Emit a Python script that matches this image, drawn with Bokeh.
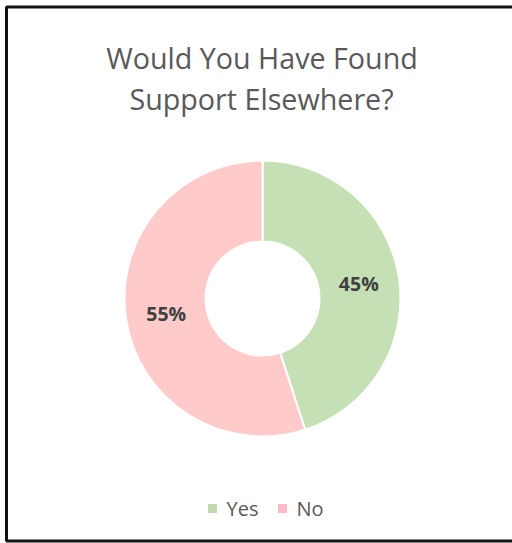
import math
from bokeh.plotting import figure
from bokeh.models import Range1d, ColumnDataSource
from bokeh.core.properties import value
from bokeh.embed import file_html
from bokeh.resources import INLINE

# ---- data ----
title_lines = ["Would You Have Found", "Support Elsewhere?"]
categories = ["Yes", "No"]
shares = [45, 55]
slice_colors = ["#C5E0B4", "#FFCACA"]
legend_colors = ["#C3D8B0", "#FFBACA"]

W, H = 512, 543
CX, CY = 262, H - 298
R_OUT, R_IN = 138, 57

p = figure(width=W, height=H, x_range=Range1d(0, W), y_range=Range1d(0, H),
           output_backend="svg", toolbar_location=None, min_border=0,
           x_axis_location=None, y_axis_location=None,
           background_fill_color="white", border_fill_color="white")
p.outline_line_color = None
p.grid.visible = False

# border (no right side)
p.line(x=[W + 10, 6, 6, W + 10], y=[H - 6.5, H - 6.5, H - 540.5, H - 540.5],
       line_color="#111111", line_width=3)

# donut
total = sum(shares)
starts, ends, lx, ly, labels = [], [], [], [], []
cum = 0
for s in shares:
    a_end = math.pi / 2 - 2 * math.pi * cum / total
    a_start = math.pi / 2 - 2 * math.pi * (cum + s) / total
    starts.append(a_start)
    ends.append(a_end)
    mid = (a_start + a_end) / 2
    rm = (R_OUT + R_IN) / 2
    lx.append(CX + rm * math.cos(mid))
    ly.append(CY + rm * math.sin(mid))
    labels.append(f"{round(100 * s / total)}%")
    cum += s

src = ColumnDataSource(dict(start=starts, end=ends, color=slice_colors,
                            lx=lx, ly=ly, label=labels, cat=categories))
p.annular_wedge(x=CX, y=CY, inner_radius=R_IN, outer_radius=R_OUT,
                start_angle="start", end_angle="end", fill_color="color",
                line_color="white", line_width=2, source=src)
p.text(x="lx", y="ly", text="label", source=src, text_align="center",
       text_baseline="middle", text_font=value("Open Sans"),
       text_font_style="bold", text_font_size="19.5px", text_color="#404040")

# title
p.text(x=[261.5, 261], y=[H - 57, H - 98], text=title_lines, text_align="center",
       text_baseline="alphabetic", text_font=value("Open Sans"),
       text_font_size="28.7px", text_color="#595959")

# legend
leg_x0 = 212
gap = [0, 70]
p.scatter(x=[leg_x0 + g for g in gap], y=[H - 508, H - 508], marker="square",
          size=9, fill_color=legend_colors, line_color=None)
p.text(x=[leg_x0 + 14 + g for g in gap], y=[H - 508, H - 508], text=categories,
       text_align="left", text_baseline="middle", text_font=value("Open Sans"),
       text_font_size="20px", text_color="#595959")

open("out.html", "w").write(file_html(p, INLINE))
